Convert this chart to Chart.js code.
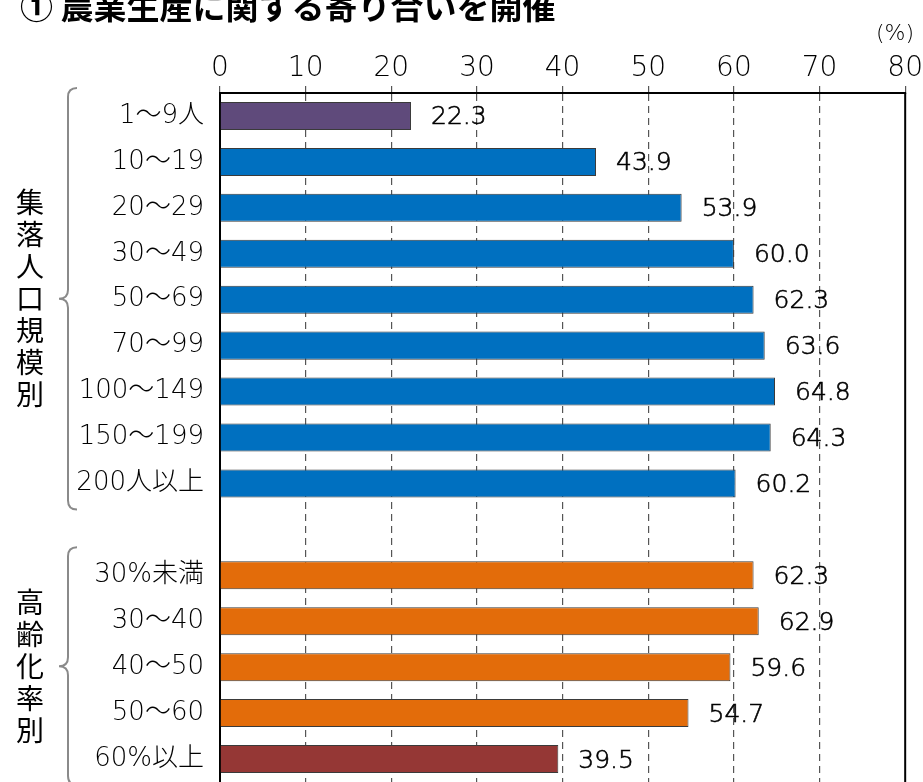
<!DOCTYPE html>
<html>
<head>
<meta charset="utf-8">
<script src="https://cdn.jsdelivr.net/npm/chart.js@4.4.1/dist/chart.umd.min.js"></script>
<style>
  body { margin: 0; background: #fff; }
  canvas { display: block; }
</style>
</head>
<body>
<canvas id="meetingChart" width="923" height="782"></canvas>
<script>
const categories = ['1～9人', '10～19', '20～29', '30～49', '50～69', '70～99', '100～149', '150～199', '200人以上',
  '', '30%未満', '30～40', '40～50', '50～60', '60%以上'];
const values = [22.3, 43.9, 53.9, 60.0, 62.3, 63.6, 64.8, 64.3, 60.2,
  null, 62.3, 62.9, 59.6, 54.7, 39.5];
const barColors = ['#5f4a7b', '#0070c0', '#0070c0', '#0070c0', '#0070c0', '#0070c0', '#0070c0', '#0070c0', '#0070c0',
  'transparent', '#e36c0a', '#e36c0a', '#e36c0a', '#e36c0a', '#953735'];
const xTicks = [0, 10, 20, 30, 40, 50, 60, 70, 80];
const titleText = '① 農業生産に関する寄り合いを開催';
const groupNames = ['集落人口規模別', '高齢化率別'];

const FONT = '"DejaVu Sans", "Noto Sans CJK JP", sans-serif';
const JP_FONT = '"Noto Sans CJK JP", sans-serif';

// value labels, group labels, braces, title, right border
const decorations = {
  id: 'decorations',
  afterDatasetsDraw(chart) {
    const ctx = chart.ctx;
    const meta = chart.getDatasetMeta(0);
    ctx.save();
    ctx.font = '300 25px ' + FONT;
    ctx.fillStyle = '#000';
    ctx.strokeStyle = '#000';
    ctx.lineWidth = 0.6;
    ctx.textAlign = 'left';
    ctx.textBaseline = 'middle';
    meta.data.forEach((bar, i) => {
      if (values[i] == null) return;
      const txt = values[i].toFixed(1);
      ctx.fillText(txt, bar.x + 20, bar.y + 2);
      ctx.strokeText(txt, bar.x + 20, bar.y + 2);
    });
    ctx.restore();
  },
  afterDraw(chart) {
    const ctx = chart.ctx;
    const area = chart.chartArea;
    const y = chart.scales.y;
    ctx.save();

    // right border
    ctx.strokeStyle = '#000';
    ctx.lineWidth = 2;
    ctx.beginPath();
    ctx.moveTo(area.right, area.top);
    ctx.lineTo(area.right, 782);
    ctx.stroke();

    // title
    ctx.fillStyle = '#000';
    ctx.font = 'bold 33px ' + JP_FONT;
    ctx.textAlign = 'left';
    ctx.textBaseline = 'middle';
    ctx.fillText(titleText, 20, 6);

    // unit
    ctx.font = '300 22px ' + FONT;
    ctx.textAlign = 'center';
    ctx.fillText('(%)', 895, 34);

    // braces and vertical group labels
    const groups = [
      { name: groupNames[0], from: 0, to: 8 },
      { name: groupNames[1], from: 10, to: 14 }
    ];
    groups.forEach(g => {
      const top = y.getPixelForValue(g.from) - 28;
      const bottom = y.getPixelForValue(g.to) + 26;
      const mid = (top + bottom) / 2;
      const x = 68, r = 9;
      ctx.strokeStyle = '#8a8a8a';
      ctx.lineWidth = 2;
      ctx.beginPath();
      ctx.moveTo(x + r, top);
      ctx.quadraticCurveTo(x, top, x, top + r);
      ctx.lineTo(x, mid - r);
      ctx.quadraticCurveTo(x, mid, x - r, mid);
      ctx.quadraticCurveTo(x, mid, x, mid + r);
      ctx.lineTo(x, bottom - r);
      ctx.quadraticCurveTo(x, bottom, x + r, bottom);
      ctx.stroke();

      const chars = Array.from(g.name);
      const step = 32;
      const start = mid - (chars.length - 1) * step / 2;
      ctx.fillStyle = '#000';
      ctx.font = '28px ' + JP_FONT;
      ctx.textAlign = 'center';
      ctx.textBaseline = 'middle';
      chars.forEach((c, k) => ctx.fillText(c, 30, start + k * step));
    });
    ctx.restore();
  }
};

new Chart(document.getElementById('meetingChart'), {
  type: 'bar',
  data: {
    labels: categories,
    datasets: [{
      data: values,
      backgroundColor: barColors,
      borderColor: '#3a3a3a',
      borderWidth: 1,
      categoryPercentage: 1.0,
      barPercentage: 0.61
    }]
  },
  options: {
    indexAxis: 'y',
    responsive: false,
    animation: false,
    layout: { padding: { left: 0, right: 16, top: 0, bottom: 0 } },
    plugins: {
      legend: { display: false },
      tooltip: { enabled: false }
    },
    scales: {
      x: {
        position: 'top',
        min: 0,
        max: 80,
        afterBuildTicks: (scale) => { scale.ticks = xTicks.map(v => ({ value: v })); },
        afterFit: (scale) => { scale.height = 93; },
        ticks: {
          color: '#000',
          padding: 0,
          font: { family: FONT, size: 28, weight: 300 }
        },
        grid: {
          color: (c) => (c.tick && (c.tick.value === 0 || c.tick.value === 80)) ? 'transparent' : '#555',
          tickColor: '#555',
          tickLength: 7,
          lineWidth: 1.2
        },
        border: { display: true, color: '#000', width: 2, dash: [7, 5] }
      },
      y: {
        afterFit: (scale) => {
          scale.width = 220;
          scale.paddingTop = 0;
          scale.paddingBottom = 0;
        },
        ticks: {
          color: '#000',
          padding: 16,
          font: { family: FONT, size: 26, weight: 300 }
        },
        grid: { display: true, drawOnChartArea: false, drawTicks: false, color: 'transparent' },
        border: { display: true, color: '#000', width: 2 }
      }
    }
  },
  plugins: [decorations]
});
</script>
</body>
</html>
